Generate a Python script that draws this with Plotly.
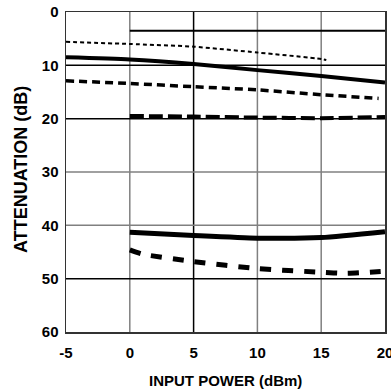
import plotly.graph_objects as go

# Data
thin_solid_x = [0, 5, 10, 15, 20]
thin_solid_y = [3.5, 3.5, 3.5, 3.5, 3.5]

thin_dash_x = [-5, 0, 5, 10, 15, 15.4]
thin_dash_y = [5.6, 6.0, 6.5, 7.6, 8.8, 9.0]

thick_solid_top_x = [-5, 0, 5, 10, 15, 20]
thick_solid_top_y = [8.5, 8.9, 9.75, 10.9, 12.0, 13.2]

med_dash_x = [-5, 0, 5, 10, 15, 19.5]
med_dash_y = [12.9, 13.4, 14.0, 14.6, 15.5, 16.2]

long_dash_x = [0, 5, 10, 15, 20]
long_dash_y = [19.5, 19.6, 19.8, 19.9, 19.7]

thick_solid_low_x = [0, 5, 10, 15, 20]
thick_solid_low_y = [41.3, 41.9, 42.4, 42.3, 41.2]

low_dash_x = [0, 1, 5, 10, 15, 17, 20]
low_dash_y = [44.6, 45.4, 46.8, 48.1, 48.8, 49.0, 48.6]

x_ticks = [-5, 0, 5, 10, 15, 20]
y_ticks = [0, 10, 20, 30, 40, 50, 60]

FONT = "Liberation Sans Narrow, Arial Narrow, Liberation Sans, Arial, sans-serif"

fig = go.Figure()

def add(x, y, width, dash):
    fig.add_trace(go.Scatter(x=x, y=y, mode="lines",
                             line=dict(color="black", width=width, dash=dash, shape="spline", smoothing=0.6),
                             showlegend=False, hoverinfo="skip"))

add(thin_solid_x, thin_solid_y, 2, "solid")
add(thin_dash_x, thin_dash_y, 2, "4px,3px")
add(thick_solid_top_x, thick_solid_top_y, 4, "solid")
add(med_dash_x, med_dash_y, 3.5, "8px,5px")
add(long_dash_x, long_dash_y, 4, "14px,5px")
add(thick_solid_low_x, thick_solid_low_y, 5, "solid")
add(low_dash_x, low_dash_y, 5, "11px,11px")

# Grid lines with mixed colours as in the reference
vgrid = {0: "#808080", 5: "#000000", 10: "#808080", 15: "#808080"}
hgrid = {10: "#000000", 20: "#000000", 30: "#808080", 40: "#808080", 50: "#000000"}
shapes = []
for xv, c in vgrid.items():
    shapes.append(dict(type="line", xref="x", yref="paper", x0=xv, x1=xv, y0=0, y1=1,
                       line=dict(color=c, width=1.5), layer="below"))
for yv, c in hgrid.items():
    shapes.append(dict(type="line", xref="paper", yref="y", x0=0, x1=1, y0=yv, y1=yv,
                       line=dict(color=c, width=1.5), layer="below"))

annotations = [
    dict(text="INPUT POWER (dBm)", xref="paper", yref="paper", x=0.5, y=0, yshift=-48,
         showarrow=False, yanchor="middle", xanchor="center",
         font=dict(family=FONT, size=15, color="black", weight="bold")),
    dict(text="ATTENUATION (dB)", xref="paper", yref="paper", x=0, y=0.5, xshift=-45, yshift=2,
         showarrow=False, textangle=-90, xanchor="center", yanchor="middle",
         font=dict(family=FONT, size=18, color="black", weight="bold")),
]

fig.update_layout(
    width=391, height=392,
    margin=dict(l=66, r=6, t=12, b=60, autoexpand=False),
    plot_bgcolor="white", paper_bgcolor="white",
    shapes=shapes, annotations=annotations,
    font=dict(family=FONT, size=15, color="black", weight="bold"),
)
fig.update_xaxes(
    range=[-5, 20], tickvals=x_ticks, ticktext=[str(v) for v in x_ticks],
    showgrid=False, zeroline=False, showline=True, linecolor="#333", linewidth=1.5, mirror=True,
    ticks="", ticklabelstandoff=6, automargin=False, ticklabeloverflow="allow",
)
fig.update_yaxes(
    range=[60, 0], tickvals=y_ticks, ticktext=[str(v) for v in y_ticks],
    showgrid=False, zeroline=False, showline=True, linecolor="#333", linewidth=1.5, mirror=True,
    ticks="", ticklabelstandoff=3, automargin=False, ticklabeloverflow="allow",
)

# Remove the browser's default body margin so the figure fills the 391x392 window exactly
fig.write_html("out.html",
               config={"displayModeBar": False, "staticPlot": True},
               post_script="document.body.style.margin='0';document.body.style.overflow='hidden';")
